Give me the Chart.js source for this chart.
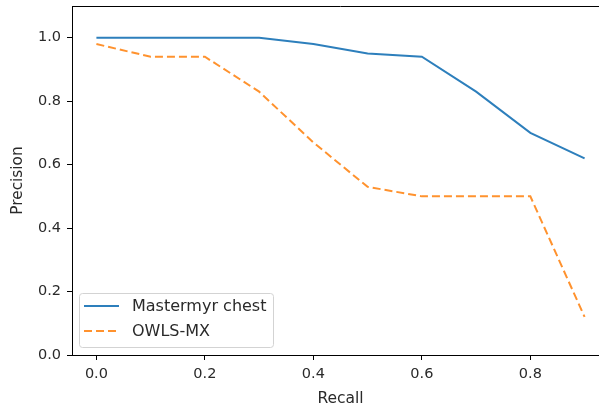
<!DOCTYPE html>
<html>
<head>
<meta charset="utf-8">
<script src="https://cdn.jsdelivr.net/npm/chart.js@4.4.0/dist/chart.umd.min.js"></script>
<style>
html,body{margin:0;padding:0;background:#fff;overflow:hidden;}
#wrap{position:relative;width:620px;height:408px;}
</style>
</head>
<body>
<div id="wrap"><canvas id="c" width="620" height="408"></canvas></div>
<script>
const recall = [0.0, 0.1, 0.2, 0.3, 0.4, 0.5, 0.6, 0.7, 0.8, 0.9];
const mastermyr = [1.00, 1.00, 1.00, 1.00, 0.98, 0.95, 0.94, 0.83, 0.70, 0.62];
const owls = [0.98, 0.94, 0.94, 0.83, 0.67, 0.53, 0.50, 0.50, 0.50, 0.12];
const seriesLabels = ['Mastermyr chest', 'OWLS-MX'];
const xTicks = [0.0, 0.2, 0.4, 0.6, 0.8];
const yTicks = [0.0, 0.2, 0.4, 0.6, 0.8, 1.0];
const xTitle = 'Recall';
const yTitle = 'Precision';

const FONT = "'DejaVu Sans', sans-serif";
const TXT = '#2a2a2a';

const frame = {
  id: 'frame',
  afterDatasetsDraw(chart) {
    const {ctx, chartArea: a} = chart;
    ctx.save();
    ctx.strokeStyle = '#000';
    ctx.lineWidth = 1;
    ctx.beginPath();
    ctx.moveTo(a.left, a.top + 0.5);
    ctx.lineTo(a.right, a.top + 0.5);
    ctx.moveTo(a.right - 0.5, a.top);
    ctx.lineTo(a.right - 0.5, a.bottom);
    ctx.stroke();
    ctx.restore();
  }
};

const innerLegend = {
  id: 'innerLegend',
  afterDraw(chart) {
    const {ctx, chartArea: a} = chart;
    const x0 = a.left + 7, y0 = a.bottom - 62, w = 194, h = 54;
    ctx.save();
    ctx.fillStyle = 'rgba(255,255,255,0.8)';
    ctx.strokeStyle = '#d3d3d3';
    ctx.lineWidth = 1;
    ctx.beginPath();
    ctx.roundRect(x0 + 0.5, y0 + 0.5, w, h, 3);
    ctx.fill();
    ctx.stroke();
    ctx.font = '16px ' + FONT;
    ctx.textBaseline = 'middle';
    chart.data.datasets.forEach((ds, i) => {
      const yy = y0 + 13 + i * 25;
      ctx.strokeStyle = ds.borderColor;
      ctx.lineWidth = 2;
      ctx.setLineDash(ds.borderDash || []);
      ctx.beginPath();
      ctx.moveTo(x0 + 5, yy);
      ctx.lineTo(x0 + 40, yy);
      ctx.stroke();
      ctx.setLineDash([]);
      ctx.fillStyle = TXT;
      ctx.fillText(ds.label, x0 + 53, yy + 1);
    });
    ctx.restore();
  }
};

new Chart(document.getElementById('c'), {
  type: 'line',
  data: {
    datasets: [
      {
        label: seriesLabels[0],
        data: recall.map((r, i) => ({x: r, y: mastermyr[i]})),
        borderColor: '#2d7fbc',
        borderWidth: 2,
        pointRadius: 0,
        fill: false,
        tension: 0
      },
      {
        label: seriesLabels[1],
        data: recall.map((r, i) => ({x: r, y: owls[i]})),
        borderColor: '#ff922e',
        borderWidth: 2,
        borderDash: [8, 4],
        pointRadius: 0,
        fill: false,
        tension: 0
      }
    ]
  },
  options: {
    responsive: false,
    animation: false,
    events: [],
    layout: {padding: {top: 6, right: 11, left: 0, bottom: 0}},
    plugins: {legend: {display: false}, tooltip: {enabled: false}},
    scales: {
      x: {
        type: 'linear',
        min: -0.045,
        max: 0.945,
        afterBuildTicks: s => { s.ticks = xTicks.map(v => ({value: v})); },
        afterFit: s => { s.height = 53; s.paddingLeft = 0; s.paddingRight = 0; },
        ticks: {
          callback: v => v.toFixed(1),
          font: {family: FONT, size: 14.5},
          color: TXT,
          padding: 6,
          maxRotation: 0,
          autoSkip: false
        },
        grid: {drawOnChartArea: false, drawTicks: true, tickLength: 5, color: '#000', tickColor: '#000'},
        border: {display: true, color: '#000', width: 1},
        title: {display: true, text: xTitle, font: {family: FONT, size: 15.5}, color: TXT, padding: {top: 1, bottom: 0}}
      },
      y: {
        type: 'linear',
        min: 0,
        max: 1.1,
        afterBuildTicks: s => { s.ticks = yTicks.map(v => ({value: v})); },
        afterFit: s => { s.width = 72; s.paddingTop = 0; s.paddingBottom = 0; },
        ticks: {
          callback: v => v.toFixed(1),
          font: {family: FONT, size: 14.5},
          color: TXT,
          padding: 6,
          autoSkip: false
        },
        grid: {drawOnChartArea: false, drawTicks: true, tickLength: 5, color: '#000', tickColor: '#000'},
        border: {display: true, color: '#000', width: 1},
        title: {display: true, text: yTitle, font: {family: FONT, size: 15.3}, color: TXT, padding: {top: 9, bottom: 0}}
      }
    }
  },
  plugins: [frame, innerLegend]
});
</script>
</body>
</html>
